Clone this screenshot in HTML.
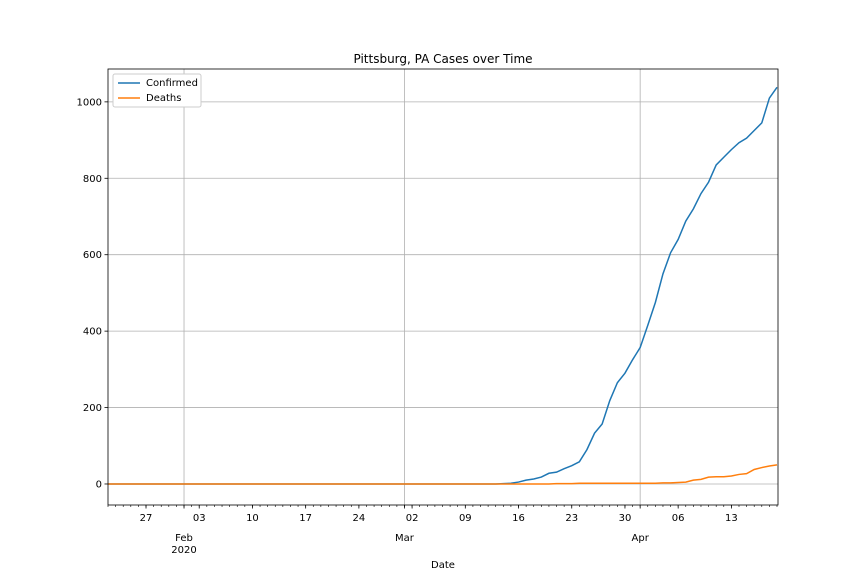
<!DOCTYPE html>
<html><head><meta charset="utf-8"><style>
body{margin:0;background:#fff;font-family:"Liberation Sans","DejaVu Sans",sans-serif}
svg text{font-family:"DejaVu Sans","Liberation Sans",sans-serif}
</style></head><body>
<svg id="chart" width="864" height="576" xmlns="http://www.w3.org/2000/svg">
<rect width="864" height="576" fill="#fff"/>
<text x="443" y="63" text-anchor="middle" font-size="12">Pittsburg, PA Cases over Time</text>
<g id="grid"></g>
<g id="series"></g>
<g id="axes"></g>
<text x="443" y="568" text-anchor="middle" font-size="10">Date</text>
<g>
<rect x="113" y="74" width="88" height="33" fill="#fff" stroke="#ccc" rx="2"/>
<line x1="118" y1="83" x2="140" y2="83" stroke="#1f77b4" stroke-width="1.5"/>
<text x="146" y="86" font-size="10">Confirmed</text>
<line x1="118" y1="98" x2="140" y2="98" stroke="#ff7f0e" stroke-width="1.5"/>
<text x="146" y="101" font-size="10">Deaths</text>
</g>
</svg>
<script>
const confirmedTail = [58,90,133,157,218,265,290,325,357,415,475,550,605,640,688,720,760,790,835,855,875,893,905,925,945,1010,1038];
const confirmedEarly = [1,2,5,10,13,18,28,31,40,48]; // days 52-61
const deathsMid = [1,1,1,2,2,2,2,2,2,2,2,2,2,2,3,3]; // days 59-74
const deathsTail = [4,5,10,12,18,19,19,21,25,27,38,43,47,50]; // days 75-88
const yTicks = [0,200,400,600,800,1000];
const minorDays = [5,12,19,26,33,40,47,54,61,68,75,82];
const minorLabels = ["27","03","10","17","24","02","09","16","23","30","06","13"];
const majorDays = [10,39,70];
const majorLabels = [["Feb","2020"],["Mar"],["Apr"]];
const N = 89;
const confirmed = [], deaths = [];
for (let d=0; d<N; d++){
  confirmed.push(d<52?0:(d<62?confirmedEarly[d-52]:confirmedTail[d-62]));
  deaths.push(d<59?0:(d<75?deathsMid[d-59]:deathsTail[d-75]));
}
const L=108,R=778,T=69,B=505;
const x=d=>L+(d/(N-1))*(R-L-1);
const yMin=-55,yMax=1086;
const y=v=>B-(v-yMin)/(yMax-yMin)*(B-T);
const NS="http://www.w3.org/2000/svg";
function mk(tag,attrs,parent,text){const e=document.createElementNS(NS,tag);for(const k in attrs)e.setAttribute(k,attrs[k]);if(text!==undefined)e.textContent=text;parent.appendChild(e);return e;}
const grid=document.getElementById('grid'),axes=document.getElementById('axes'),series=document.getElementById('series');
yTicks.forEach(v=>{
  const g=mk('line',{x1:L,x2:R,y1:y(v),y2:y(v),stroke:'#b0b0b0','stroke-width':0.8},grid);
  
  
  mk('line',{x1:L-3.5,x2:L,y1:y(v),y2:y(v),stroke:'#000','stroke-width':0.8},axes);
  const t=mk('text',{x:L-6,y:y(v)+3.5,'text-anchor':'end','font-size':10},axes,String(v));
  
  
});
majorDays.forEach((d,i)=>{
  const g=mk('line',{x1:x(d),x2:x(d),y1:T,y2:B,stroke:'#b0b0b0','stroke-width':0.8},grid);
  
  
  mk('line',{x1:x(d),x2:x(d),y1:B,y2:B+3.5,stroke:'#000','stroke-width':0.8},axes);
  majorLabels[i].forEach((s,j)=>{
    const t=mk('text',{x:x(d),y:B+36+j*12,'text-anchor':'middle','font-size':10},axes,s);
    
    
  });
});
for(let d=0;d<N;d++) mk('line',{x1:x(d),x2:x(d),y1:B,y2:B+2,stroke:'#000','stroke-width':0.6},axes);
minorDays.forEach((d,i)=>{
  mk('line',{x1:x(d),x2:x(d),y1:B,y2:B+3.5,stroke:'#000','stroke-width':0.8},axes);
  const t=mk('text',{x:x(d),y:B+16,'text-anchor':'middle','font-size':10},axes,minorLabels[i]);
  
  
});
function line(arr,color,name){
  const p=mk('polyline',{points:arr.map((v,d)=>x(d)+','+y(v)).join(' '),fill:'none',stroke:color,'stroke-width':1.5},series);
  
  
}
line(confirmed,'#1f77b4','confirmed-line');
line(deaths,'#ff7f0e','deaths-line');
const fr=mk('rect',{x:L,y:T,width:R-L,height:B-T,fill:'none',stroke:'#000','stroke-width':0.8},axes);


</script>
</body></html>
